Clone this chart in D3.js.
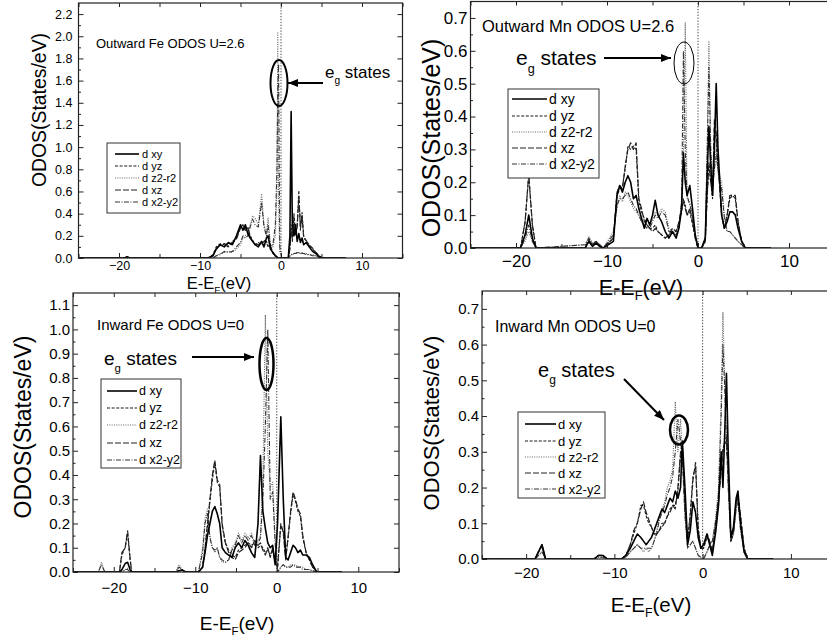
<!DOCTYPE html>
<html><head><meta charset="utf-8">
<script src="https://cdn.jsdelivr.net/npm/d3@7"></script>
<style>body{margin:0;background:#fff}svg{display:block;font-family:"Liberation Sans",Arial,sans-serif}</style>
</head><body>
<svg id="c" width="827" height="641"></svg>
<script>
// ---------- data ----------
const SERIES = ["d xy","d yz","d z2-r2","d xz","d x2-y2"];
const X_TICKS = [-20,-10,0,10];
const X_MINOR = [-25,-15,-5,5,15];
const Y1_TICKS = [0,0.2,0.4,0.6,0.8,1.0,1.2,1.4,1.6,1.8,2.0,2.2];
const Y2_TICKS = [0,0.1,0.2,0.3,0.4,0.5,0.6,0.7];
const Y3_TICKS = [0,0.1,0.2,0.3,0.4,0.5,0.6,0.7,0.8,0.9,1.0,1.1];
const Y4_TICKS = [0,0.1,0.2,0.3,0.4,0.5,0.6,0.7];

// Outward Fe, U=2.6
const P1_E = [-25,-19.4,-19,-18.6,-9,-8.4,-8,-7.5,-7,-6.5,-6,-5.5,-5,-4.7,-4.4,-4.1,-3.8,-3.5,-3.2,-2.8,-2.4,-2.1,-1.8,-1.6,-1.3,-1.0,-0.7,-0.5,-0.4,-0.3,-0.15,0.1,0.5,0.9,1.1,1.25,1.4,1.6,1.8,2.0,2.2,2.4,2.6,2.8,3.1,3.5,3.9,4.3,4.7,5.1,8];
const FE_OUT_XY = [0,0,0.01,0,0,0.02,0.08,0.12,0.1,0.14,0.12,0.2,0.3,0.25,0.3,0.22,0.18,0.15,0.12,0.1,0.15,0.1,0.18,0.2,0.08,0.05,0.02,0.01,0,0,0,0,0,0,0.2,1.32,0.3,0.2,0.3,0.15,0.22,0.14,0.18,0.12,0.14,0.1,0.06,0.04,0.01,0,0];
const FE_OUT_YZ = [0,0,0.01,0,0,0.03,0.1,0.13,0.12,0.1,0.15,0.18,0.28,0.3,0.24,0.28,0.2,0.16,0.12,0.14,0.12,0.16,0.14,0.1,0.12,0.04,0.02,0.01,0,0,0,0,0,0,0.1,0.3,0.15,0.4,0.2,0.3,0.61,0.25,0.41,0.2,0.15,0.12,0.08,0.05,0.02,0,0];
const FE_OUT_Z2 = [0,0,0,0,0,0,0.02,0.04,0.05,0.06,0.05,0.08,0.12,0.18,0.2,0.22,0.3,0.38,0.36,0.3,0.58,0.3,0.22,0.36,0.12,0.1,0.2,0.6,2.04,0.5,0.05,0,0,0,0.02,0.03,0.04,0.03,0.05,0.04,0.05,0.04,0.05,0.04,0.04,0.03,0.03,0.02,0.01,0,0];
const FE_OUT_XZ = [0,0,0.01,0,0,0.02,0.09,0.12,0.13,0.11,0.14,0.17,0.27,0.29,0.26,0.27,0.19,0.15,0.13,0.12,0.13,0.15,0.15,0.11,0.1,0.05,0.02,0.01,0,0,0,0,0,0,0.08,0.25,0.18,0.36,0.22,0.28,0.55,0.28,0.38,0.18,0.16,0.11,0.09,0.05,0.02,0,0];
const FE_OUT_X2 = [0,0,0,0,0,0,0.02,0.03,0.06,0.05,0.06,0.1,0.14,0.2,0.18,0.2,0.28,0.35,0.3,0.28,0.5,0.28,0.2,0.3,0.1,0.12,0.3,0.8,1.5,1.75,0.1,0,0,0,0.02,0.03,0.03,0.04,0.04,0.05,0.04,0.05,0.04,0.04,0.03,0.03,0.02,0.02,0.01,0,0];

// Outward Mn, U=2.6
const P2_E = [-25,-19.5,-19.0,-18.6,-18.2,-17.8,-12.4,-12.0,-11.6,-11.2,-10.8,-10.4,-9.3,-8.9,-8.6,-8.3,-8.0,-7.7,-7.4,-7.1,-6.8,-6.5,-6.2,-5.9,-5.6,-5.3,-5.0,-4.7,-4.4,-4.0,-3.6,-3.2,-2.8,-2.4,-2.1,-1.8,-1.6,-1.4,-1.2,-0.9,-0.6,-0.3,0.0,0.4,0.8,1.0,1.2,1.4,1.6,1.8,2.0,2.2,2.4,2.6,2.9,3.2,3.5,3.8,4.1,4.4,4.8,5.2,8];
const MN_OUT_XY = [0,0,0.04,0.1,0.03,0,0,0.02,0.005,0.015,0.005,0,0.02,0.16,0.19,0.17,0.2,0.22,0.2,0.15,0.16,0.12,0.09,0.06,0.09,0.07,0.1,0.145,0.1,0.08,0.05,0.03,0.05,0.03,0.06,0.12,0.29,0.2,0.16,0.19,0.12,0.04,0,0,0.03,0.22,0.37,0.25,0.16,0.3,0.5,0.3,0.2,0.1,0.06,0.08,0.11,0.11,0.1,0.06,0.02,0,0];
const MN_OUT_YZ = [0,0,0.08,0.22,0.07,0,0,0.02,0.01,0.02,0.005,0,0.03,0.16,0.18,0.19,0.24,0.31,0.3,0.31,0.3,0.14,0.11,0.09,0.07,0.06,0.06,0.07,0.05,0.04,0.03,0.04,0.05,0.05,0.07,0.11,0.15,0.13,0.1,0.11,0.07,0.03,0,0,0.02,0.16,0.25,0.2,0.15,0.37,0.33,0.24,0.19,0.1,0.06,0.1,0.15,0.16,0.15,0.08,0.02,0,0];
const MN_OUT_Z2 = [0,0,0.02,0.05,0.02,0,0.01,0.035,0.015,0.02,0.01,0,0.05,0.12,0.16,0.14,0.17,0.16,0.14,0.12,0.11,0.1,0.08,0.07,0.06,0.07,0.09,0.11,0.1,0.12,0.11,0.06,0.05,0.04,0.06,0.15,0.3,0.685,0.15,0.14,0.1,0.03,0,0,0.03,0.3,0.63,0.3,0.2,0.25,0.3,0.25,0.22,0.2,0.1,0.05,0.05,0.04,0.03,0.02,0.01,0,0];
const MN_OUT_XZ = [0,0,0.08,0.225,0.07,0,0,0.025,0.01,0.02,0.005,0,0.03,0.17,0.19,0.18,0.25,0.3,0.32,0.3,0.32,0.15,0.12,0.08,0.07,0.06,0.05,0.06,0.05,0.04,0.03,0.04,0.06,0.05,0.08,0.12,0.14,0.12,0.1,0.12,0.08,0.03,0,0,0.02,0.15,0.26,0.2,0.16,0.39,0.35,0.25,0.18,0.1,0.06,0.1,0.16,0.16,0.16,0.08,0.02,0,0];
const MN_OUT_X2 = [0,0,0.03,0.07,0.02,0,0.01,0.03,0.01,0.02,0.01,0,0.04,0.13,0.15,0.15,0.16,0.17,0.15,0.13,0.12,0.1,0.08,0.07,0.06,0.06,0.08,0.1,0.09,0.11,0.1,0.05,0.05,0.04,0.06,0.14,0.6,0.3,0.16,0.13,0.1,0.03,0,0,0.03,0.28,0.55,0.3,0.18,0.24,0.28,0.24,0.2,0.18,0.09,0.05,0.05,0.04,0.03,0.02,0.01,0,0];

// Inward Fe, U=0
const P3_E = [-25,-21.9,-21.5,-21.1,-19.3,-19.0,-18.6,-18.3,-18.0,-17.8,-12.4,-12.0,-11.6,-11.2,-9.6,-9.1,-8.8,-8.5,-8.2,-7.9,-7.6,-7.3,-7.0,-6.7,-6.3,-5.9,-5.5,-5.1,-4.7,-4.3,-3.9,-3.5,-3.1,-2.7,-2.3,-2.0,-1.7,-1.4,-1.1,-0.8,-0.5,-0.2,0.1,0.5,0.8,1.1,1.4,1.7,2.0,2.3,2.6,2.9,3.2,3.6,4.0,4.4,4.9,8];
const FE_IN_XY = [0,0,0,0,0,0.01,0.035,0.04,0.01,0,0,0.005,0.008,0,0,0.02,0.08,0.15,0.2,0.25,0.27,0.24,0.2,0.1,0.08,0.07,0.06,0.1,0.12,0.1,0.13,0.11,0.08,0.06,0.2,0.48,0.25,0.18,0.12,0.1,0.11,0.03,0.2,0.64,0.3,0.06,0.05,0.08,0.11,0.1,0.08,0.09,0.07,0.07,0.06,0.03,0,0];
const FE_IN_YZ = [0,0,0,0,0,0.07,0.1,0.16,0.05,0,0,0.005,0.008,0,0,0.02,0.09,0.19,0.29,0.38,0.45,0.37,0.35,0.19,0.12,0.09,0.07,0.06,0.09,0.1,0.11,0.12,0.11,0.12,0.1,0.11,0.1,0.08,0.09,0.07,0.09,0.04,0.02,0.19,0.17,0.06,0.14,0.24,0.32,0.29,0.25,0.23,0.14,0.08,0.05,0.02,0,0];
const FE_IN_Z2 = [0,0,0.04,0,0,0,0.01,0.015,0,0,0,0.03,0.01,0,0,0.1,0.22,0.26,0.15,0.1,0.08,0.1,0.06,0.04,0.04,0.05,0.1,0.12,0.16,0.13,0.16,0.14,0.16,0.12,0.13,0.15,0.4,1.06,0.5,0.35,0.37,0.15,0,0.02,0.03,0.02,0.02,0.03,0.03,0.03,0.02,0.02,0.02,0.01,0.01,0.005,0,0];
const FE_IN_XZ = [0,0,0,0,0,0.08,0.1,0.17,0.06,0,0,0.005,0.008,0,0,0.02,0.1,0.2,0.3,0.4,0.46,0.38,0.36,0.2,0.12,0.08,0.06,0.05,0.08,0.09,0.1,0.12,0.1,0.13,0.11,0.12,0.09,0.07,0.1,0.06,0.1,0.04,0.02,0.2,0.16,0.05,0.15,0.25,0.33,0.3,0.26,0.24,0.15,0.08,0.05,0.02,0,0];
const FE_IN_X2 = [0,0,0.03,0,0,0,0.01,0.01,0,0,0,0.02,0.01,0,0,0.08,0.2,0.24,0.14,0.1,0.09,0.1,0.06,0.05,0.04,0.05,0.09,0.11,0.15,0.12,0.15,0.13,0.15,0.11,0.12,0.14,0.3,0.6,1.0,0.3,0.33,0.12,0,0.02,0.03,0.02,0.02,0.02,0.03,0.02,0.02,0.02,0.01,0.01,0.01,0.005,0,0];

// Inward Mn, U=0
const P4_E = [-25,-19,-18.6,-18.2,-17.8,-12.3,-11.8,-11.3,-10.8,-9.2,-8.7,-8.2,-7.8,-7.4,-7.0,-6.7,-6.4,-6.1,-5.8,-5.5,-5.2,-4.9,-4.6,-4.3,-4.0,-3.7,-3.4,-3.1,-2.8,-2.5,-2.3,-2.0,-1.7,-1.4,-1.1,-0.8,-0.5,-0.2,0.1,0.5,0.8,1.1,1.5,1.8,2.1,2.3,2.5,2.7,2.9,3.2,3.5,3.8,4.0,4.3,4.7,5.1,8];
const MN_IN_XY = [0,0,0.02,0.04,0,0,0.01,0.01,0,0,0.01,0.03,0.05,0.07,0.06,0.05,0.04,0.05,0.06,0.08,0.1,0.12,0.14,0.13,0.15,0.17,0.16,0.19,0.17,0.2,0.33,0.2,0.04,0.08,0.16,0.13,0.06,0.03,0.04,0.07,0.04,0.01,0.08,0.15,0.3,0.2,0.35,0.52,0.3,0.06,0.09,0.17,0.19,0.1,0.02,0,0];
const MN_IN_YZ = [0,0,0.02,0.035,0,0,0.01,0.01,0,0,0.01,0.04,0.07,0.1,0.15,0.15,0.12,0.1,0.09,0.07,0.07,0.08,0.09,0.1,0.12,0.14,0.15,0.15,0.19,0.29,0.31,0.16,0.05,0.13,0.23,0.26,0.09,0.03,0.03,0.06,0.05,0.02,0.1,0.16,0.26,0.31,0.32,0.33,0.24,0.05,0.08,0.16,0.17,0.12,0.03,0,0];
const MN_IN_Z2 = [0,0,0.01,0.02,0,0,0.005,0.005,0,0,0.005,0.02,0.03,0.04,0.03,0.02,0.03,0.02,0.03,0.05,0.08,0.12,0.14,0.16,0.2,0.22,0.25,0.44,0.3,0.39,0.3,0.12,0.03,0.04,0.05,0.03,0.01,0.005,0,0.02,0.04,0.05,0.12,0.2,0.45,0.69,0.5,0.35,0.2,0.05,0.07,0.15,0.17,0.08,0.02,0,0];
const MN_IN_XZ = [0,0,0.02,0.04,0,0,0.01,0.01,0,0,0.01,0.04,0.08,0.1,0.14,0.16,0.13,0.11,0.09,0.07,0.07,0.08,0.1,0.1,0.12,0.13,0.15,0.14,0.2,0.3,0.32,0.15,0.05,0.12,0.22,0.27,0.08,0.03,0.03,0.07,0.05,0.02,0.1,0.16,0.25,0.3,0.33,0.34,0.25,0.05,0.08,0.16,0.18,0.12,0.03,0,0];
const MN_IN_X2 = [0,0,0.01,0.02,0,0,0.005,0.005,0,0,0.005,0.02,0.03,0.04,0.03,0.03,0.03,0.03,0.03,0.05,0.07,0.11,0.13,0.15,0.18,0.2,0.23,0.3,0.39,0.33,0.28,0.12,0.03,0.04,0.05,0.03,0.01,0.005,0,0.02,0.04,0.05,0.11,0.18,0.4,0.6,0.48,0.33,0.2,0.05,0.07,0.14,0.16,0.08,0.02,0,0];

const TITLES = ["Outward Fe ODOS U=2.6","Outward Mn ODOS U=2.6","Inward Fe ODOS U=0","Inward Mn ODOS U=0"];

// ---------- styles / layout ----------
const STYLE = {
  "d xy":   {stroke:"#000", w:1.6, dash:null},
  "d yz":   {stroke:"#1a1a1a", w:1.1, dash:"3,1.6"},
  "d z2-r2":{stroke:"#666", w:1.1, dash:"1,1.3"},
  "d xz":   {stroke:"#222", w:1.2, dash:"6,2"},
  "d x2-y2":{stroke:"#333", w:1.1, dash:"5,1.5,1,1.5"}
};
const DRAW_ORDER = [2,4,1,3,0];
const FONT = '"Liberation Sans",Arial,sans-serif';

const panels = [
 {E:P1_E, S:[FE_OUT_XY,FE_OUT_YZ,FE_OUT_Z2,FE_OUT_XZ,FE_OUT_X2], title:TITLES[0], yt:Y1_TICKS, ymax:2.3, ymin:0.1,
  x0:78.5, x1:402.5, yb:258, ytop:3, tfs:12.5, xpad:3, ypad:6,
  xl:{x:219,y:289,fs:16.5}, yl:{x:39,y:110,fs:19.4}, ti:{x:96,y:48,fs:13},
  eg:{x:325,y:78,fs:17}, arr:[323,83,288,83,2], ell:{cx:279,cy:83,rx:8.5,ry:23,w:2},
  leg:{x:107,y:143,w:73,h:70,l1:115,l2:139,tx:142,rows:[154,166,178,190,202],fs:11}},
 {E:P2_E, S:[MN_OUT_XY,MN_OUT_YZ,MN_OUT_Z2,MN_OUT_XZ,MN_OUT_X2], title:TITLES[1], yt:Y2_TICKS, ymax:0.75, ymin:0.05,
  x0:470.5, x1:834.5, yb:248, ytop:1.5, tfs:17, xpad:7, ypad:3,
  xl:{x:641,y:295,fs:21.5}, yl:{x:431,y:138,fs:25}, ti:{x:482,y:32,fs:16.5},
  eg:{x:516,y:65,fs:21}, arr:[604,58,671,58,2], ell:{cx:684,cy:63,rx:10,ry:21,w:1},
  leg:{x:508,y:89,w:91,h:89,l1:512,l2:547,tx:549,rows:[99,116,132,148,164],fs:14}},
 {E:P3_E, S:[FE_IN_XY,FE_IN_YZ,FE_IN_Z2,FE_IN_XZ,FE_IN_X2], title:TITLES[2], yt:Y3_TICKS, ymax:1.15, ymin:0.05,
  x0:73, x1:399, yb:572, ytop:293, tfs:15, xpad:10, ypad:3,
  xl:{x:237,y:630,fs:19}, yl:{x:23,y:427,fs:23}, ti:{x:97,y:330,fs:15},
  eg:{x:104,y:365,fs:19}, arr:[192,357,254,357,2.2], ell:{cx:266.5,cy:364,rx:7,ry:26,w:2.5},
  leg:{x:101,y:379,w:80,h:89,l1:107,l2:137,tx:139,rows:[391,408,425,443,460],fs:12.5}},
 {E:P4_E, S:[MN_IN_XY,MN_IN_YZ,MN_IN_Z2,MN_IN_XZ,MN_IN_X2], title:TITLES[3], yt:Y4_TICKS, ymax:0.75, ymin:0.05,
  x0:482, x1:835, yb:559, ytop:291, tfs:15, xpad:8, ypad:3,
  xl:{x:651,y:612,fs:20.5}, yl:{x:431,y:423,fs:22}, ti:{x:495,y:332,fs:16},
  eg:{x:538,y:377,fs:20}, arr:[624,379,664,420,2], ell:{cx:679,cy:430,rx:9,ry:14.5,w:2.5},
  leg:{x:518,y:412,w:87,h:86,l1:525,l2:556,tx:558,rows:[424,441,457,473,489],fs:13}}
];

const svg = d3.select("#c");
const defs = svg.append("defs");
defs.append("marker").attr("id","ah").attr("viewBox","0 0 10 8").attr("refX",10).attr("refY",4)
  .attr("markerWidth",12).attr("markerHeight",8).attr("markerUnits","userSpaceOnUse").attr("orient","auto")
  .append("path").attr("d","M0,0 L10,4 L0,8 Z").attr("fill","#000");

panels.forEach((p,pi)=>{
  const x = d3.scaleLinear().domain([-25,15]).range([p.x0,p.x1]);
  const y = d3.scaleLinear().domain([0,p.ymax]).range([p.yb,p.ytop]);
  const g = svg.append("g");
  const cid = "clip"+pi;
  defs.append("clipPath").attr("id",cid).append("rect")
    .attr("x",p.x0).attr("y",p.ytop).attr("width",p.x1-p.x0).attr("height",p.yb-p.ytop);

  // Fermi level
  g.append("line").attr("x1",x(0)).attr("x2",x(0)).attr("y1",p.yb).attr("y2",p.ytop)
    .attr("stroke","#444").attr("stroke-width",1).attr("stroke-dasharray","1.3,1.6");

  // data lines
  const plot = g.append("g").attr("clip-path",`url(#${cid})`);
  DRAW_ORDER.forEach(si=>{
    const st = STYLE[SERIES[si]];
    const line = d3.line().x((d,i)=>x(p.E[i])).y(d=>y(d));
    plot.append("path").datum(p.S[si]).attr("d",line).attr("fill","none")
      .attr("stroke",st.stroke).attr("stroke-width",st.w).attr("stroke-dasharray",st.dash)
      .attr("stroke-linejoin","round");
  });

  // frame
  g.append("rect").attr("x",p.x0).attr("y",p.ytop).attr("width",p.x1-p.x0).attr("height",p.yb-p.ytop)
    .attr("fill","none").attr("stroke","#222").attr("stroke-width",1.2);

  // axes
  const styleAxis = (sel,fs)=>{ sel.select(".domain").remove();
    sel.selectAll("line").attr("stroke","#222");
    sel.selectAll("text").attr("font-family",FONT).attr("font-size",fs).attr("fill","#000"); };
  const yMinor = d3.range(p.ymin, p.ymax, p.ymin*2).filter(v=>v<p.ymax-1e-6);
  g.append("g").attr("transform",`translate(0,${p.yb})`)
    .call(d3.axisBottom(x).tickValues(X_TICKS).tickSize(-5).tickPadding(p.xpad).tickFormat(d3.format("d")))
    .call(s=>styleAxis(s,p.tfs));
  g.append("g").attr("transform",`translate(0,${p.yb})`)
    .call(d3.axisBottom(x).tickValues(X_MINOR).tickSize(-4).tickFormat(""))
    .call(s=>styleAxis(s,p.tfs));
  g.append("g").attr("transform",`translate(0,${p.ytop})`)
    .call(d3.axisTop(x).tickValues(X_TICKS.concat(X_MINOR)).tickSize(-4).tickFormat(""))
    .call(s=>styleAxis(s,p.tfs));
  g.append("g").attr("transform",`translate(${p.x0},0)`)
    .call(d3.axisLeft(y).tickValues(p.yt).tickSize(-5).tickPadding(p.ypad).tickFormat(d3.format(".1f")))
    .call(s=>styleAxis(s,p.tfs));
  g.append("g").attr("transform",`translate(${p.x0},0)`)
    .call(d3.axisLeft(y).tickValues(yMinor).tickSize(-2.5).tickFormat(""))
    .call(s=>styleAxis(s,p.tfs));
  g.append("g").attr("transform",`translate(${p.x1},0)`)
    .call(d3.axisRight(y).tickValues(p.yt).tickSize(-5).tickFormat(""))
    .call(s=>styleAxis(s,p.tfs));

  // axis titles
  const xt = g.append("text").attr("x",p.xl.x).attr("y",p.xl.y).attr("text-anchor","middle")
    .attr("font-family",FONT).attr("font-size",p.xl.fs);
  xt.append("tspan").text("E-E");
  xt.append("tspan").attr("dy",p.xl.fs*0.25).attr("font-size",p.xl.fs*0.6).text("F");
  xt.append("tspan").attr("dy",-p.xl.fs*0.25).text("(eV)");
  g.append("text").attr("transform",`translate(${p.yl.x},${p.yl.y}) rotate(-90)`).attr("dy","0.35em")
    .attr("text-anchor","middle").attr("font-family",FONT).attr("font-size",p.yl.fs).text("ODOS(States/eV)");

  // title
  g.append("text").attr("x",p.ti.x).attr("y",p.ti.y).attr("font-family",FONT).attr("font-size",p.ti.fs).text(p.title);

  // e_g annotation
  const eg = g.append("text").attr("x",p.eg.x).attr("y",p.eg.y).attr("font-family",FONT).attr("font-size",p.eg.fs);
  eg.append("tspan").text("e");
  eg.append("tspan").attr("dy",p.eg.fs*0.36).attr("font-size",p.eg.fs*0.6).text("g");
  eg.append("tspan").attr("dy",-p.eg.fs*0.36).text("\u00a0states");
  g.append("line").attr("x1",p.arr[0]).attr("y1",p.arr[1]).attr("x2",p.arr[2]).attr("y2",p.arr[3])
    .attr("stroke","#000").attr("stroke-width",p.arr[4]).attr("marker-end","url(#ah)");
  g.append("ellipse").attr("cx",p.ell.cx).attr("cy",p.ell.cy).attr("rx",p.ell.rx).attr("ry",p.ell.ry)
    .attr("fill","none").attr("stroke","#000").attr("stroke-width",p.ell.w);

  // legend
  const L = p.leg;
  g.append("rect").attr("x",L.x).attr("y",L.y).attr("width",L.w).attr("height",L.h)
    .attr("fill","#fff").attr("stroke","#333").attr("stroke-width",1);
  SERIES.forEach((s,i)=>{
    const st = STYLE[s];
    g.append("line").attr("x1",L.l1).attr("x2",L.l2).attr("y1",L.rows[i]).attr("y2",L.rows[i])
      .attr("stroke",st.stroke).attr("stroke-width",st.w).attr("stroke-dasharray",st.dash);
    g.append("text").attr("x",L.tx).attr("y",L.rows[i]).attr("dominant-baseline","central")
      .attr("font-family",FONT).attr("font-size",L.fs).text(s);
  });
});
</script>
</body></html>
